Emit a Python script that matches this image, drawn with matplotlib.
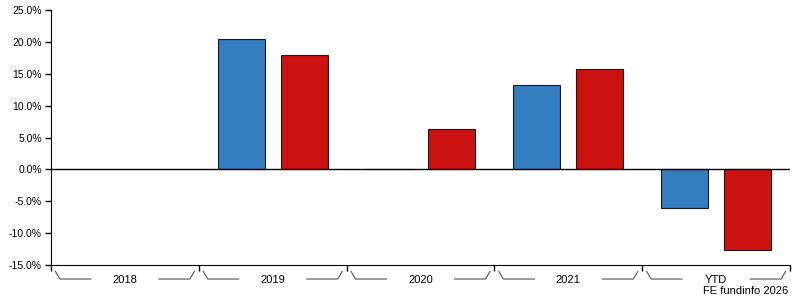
import matplotlib.pyplot as plt
import numpy as np

plt.rcParams['font.family'] = ['Liberation Sans', 'DejaVu Sans']

categories = ['2018', '2019', '2020', '2021', 'YTD']
fund = [np.nan, 20.5, 0.1, 13.3, -6.1]
sector = [np.nan, 17.9, 6.4, 15.8, -12.7]

fig = plt.figure(figsize=(7.95, 3.0), dpi=100)
ax = fig.add_axes([51/795, 35/300, 739/795, 255/300])

x = np.arange(len(categories))
w = 0.318
ax.bar(x - 0.213, fund, w, color='#337DC0', edgecolor='#1a1a1a', linewidth=0.8, zorder=2)
ax.bar(x + 0.213, sector, w, color='#CC1111', edgecolor='#1a1a1a', linewidth=0.8, zorder=2)
ax.axhline(0, color='black', linewidth=1, zorder=3)

ax.set_xlim(-0.5, len(categories) - 0.5)
ax.set_ylim(-15, 25)
ax.set_yticks(np.arange(-15, 26, 5))
ax.set_yticklabels(['%.1f%%' % v for v in np.arange(-15, 26, 5)], fontsize=7.5)
ax.set_xticks(np.arange(len(categories) + 1) - 0.5)
ax.set_xticklabels([])
ax.tick_params(axis='both', length=4, width=1, color='black', direction='out', pad=2.5)
ax.spines['top'].set_visible(False)
ax.spines['right'].set_visible(False)

# category brackets under the axis
trans = ax.get_xaxis_transform()
for i, c in enumerate(categories):
    l, r = i - 0.5, i + 0.5
    ax.plot([l + 0.03, l + 0.06, l + 0.27], [-0.025, -0.055, -0.055], color='#555555',
            linewidth=0.8, transform=trans, clip_on=False)
    ax.plot([r - 0.27, r - 0.06, r - 0.03], [-0.055, -0.055, -0.025], color='#555555',
            linewidth=0.8, transform=trans, clip_on=False)
    ax.text(i, -0.06, c, transform=trans, ha='center', va='center', fontsize=8)

fig.text(788/795, 1 - 291/300, 'FE fundinfo 2026', ha='right', va='center', fontsize=8)

fig.savefig('out.png', dpi=100)
